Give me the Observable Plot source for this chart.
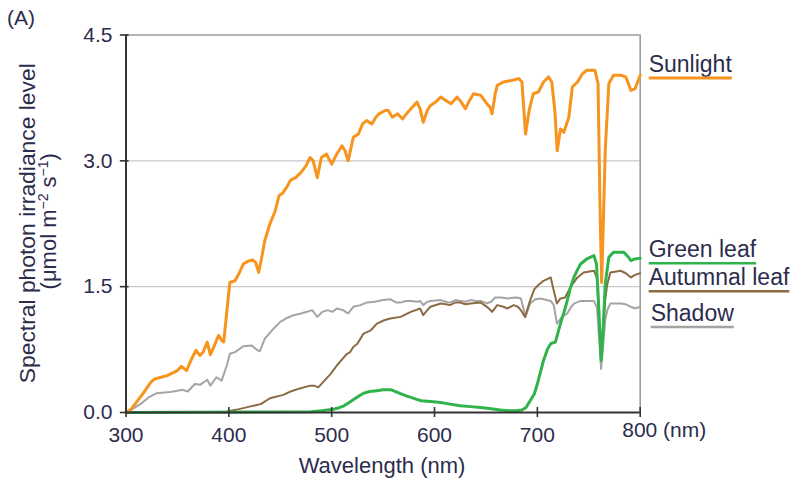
<!DOCTYPE html>
<html><head><meta charset="utf-8">
<script src="https://cdn.jsdelivr.net/npm/d3@7"></script>
<script src="https://cdn.jsdelivr.net/npm/@observablehq/plot@0.6"></script>
<style>body{margin:0;background:#fff}</style>
</head><body>
<script>
const xTicks = [300, 400, 500, 600, 700, 800];
const yTicks = [0, 1.5, 3.0, 4.5];
const seriesNames = ["Sunlight", "Green leaf", "Autumnal leaf", "Shadow"];

// [wavelength nm, spectral photon irradiance]
const sunlight = [[300,0],[305,0.04],[310,0.12],[318,0.25],[324,0.36],[328,0.40],[334,0.42],[340,0.44],[345,0.47],[350,0.50],[354,0.55],[359,0.50],[363,0.62],[368,0.74],[372,0.68],[375,0.72],[379,0.84],[382,0.69],[386,0.80],[390,0.92],[393,0.86],[395,0.84],[398,1.2],[401,1.55],[406,1.57],[410,1.66],[414,1.77],[418,1.80],[423,1.82],[426,1.79],[429,1.67],[432,1.85],[435,2.05],[440,2.25],[445,2.40],[449,2.59],[452,2.61],[456,2.68],[460,2.77],[465,2.80],[470,2.86],[475,2.94],[479,3.04],[482,3.00],[486,2.80],[490,3.04],[495,3.08],[500,2.96],[504,3.06],[507,3.12],[510,3.18],[513,3.12],[516,3.00],[521,3.28],[526,3.32],[530,3.44],[534,3.48],[539,3.44],[543,3.52],[546,3.56],[552,3.60],[555,3.60],[559,3.52],[564,3.56],[569,3.50],[574,3.58],[577,3.62],[583,3.70],[586,3.62],[589,3.46],[593,3.60],[596,3.66],[601,3.70],[606,3.76],[611,3.72],[616,3.68],[622,3.76],[626,3.70],[630,3.62],[634,3.72],[638,3.80],[645,3.78],[651,3.68],[654,3.64],[656,3.56],[659,3.80],[661,3.90],[667,3.94],[676,3.96],[682,3.98],[685,3.94],[688.5,3.32],[692,3.60],[696,3.80],[701,3.82],[706,3.94],[711,4.00],[714,3.94],[717,3.60],[719.3,3.12],[722.5,3.38],[725.7,3.34],[730.6,3.52],[734,3.88],[739,3.94],[744,4.04],[748,4.08],[756,4.08],[759,3.92],[761,2.4],[762.5,1.55],[764,2.2],[766,3.12],[769.5,3.92],[774,4.02],[781,4.02],[786,4.00],[791,3.84],[795,3.86],[800,4.02]];

const greenLeaf = [[300,0],[480,0.01],[490,0.02],[502,0.04],[508,0.06],[512,0.08],[517,0.12],[522,0.16],[527,0.20],[531,0.23],[537,0.25],[544,0.26],[550,0.27],[554,0.27],[558,0.27],[564,0.24],[568,0.22],[572,0.20],[577,0.18],[582,0.16],[587,0.14],[596,0.13],[606,0.12],[615,0.10],[625,0.08],[635,0.07],[645,0.06],[655,0.045],[664,0.03],[672,0.02],[680,0.02],[685,0.03],[689,0.06],[693,0.14],[697,0.22],[700,0.34],[703,0.48],[706,0.62],[710,0.76],[713,0.82],[717.5,0.84],[720,0.95],[722.5,1.06],[726,1.20],[729,1.33],[732,1.48],[735.5,1.61],[739,1.70],[742,1.77],[748,1.83],[755,1.87],[757.5,1.77],[759.5,1.3],[762,0.62],[764,1.0],[766,1.53],[769.5,1.85],[774,1.91],[784,1.91],[788,1.86],[791,1.81],[795,1.83],[800,1.84]];

const autumnalLeaf = [[395,0],[402,0.02],[410,0.04],[420,0.07],[431,0.10],[440,0.17],[453,0.21],[460,0.25],[470,0.29],[479,0.32],[483,0.32],[487,0.30],[493,0.38],[499,0.46],[505,0.56],[512,0.66],[515,0.70],[518,0.72],[521,0.78],[525,0.82],[531,0.94],[538,0.98],[544,1.06],[551,1.10],[557,1.12],[567,1.14],[572,1.17],[577,1.20],[586,1.24],[589,1.16],[593,1.22],[596,1.26],[606,1.30],[611,1.29],[615,1.28],[620,1.31],[625,1.31],[630,1.29],[635,1.30],[645,1.31],[651,1.26],[656,1.20],[661,1.28],[667,1.26],[671,1.24],[677,1.28],[681,1.26],[684,1.22],[688,1.14],[692,1.30],[697,1.47],[701,1.52],[706,1.57],[713,1.61],[716,1.45],[719,1.30],[722.5,1.36],[727,1.37],[732,1.49],[739,1.61],[745,1.67],[755,1.69],[758,1.60],[760,1.1],[762,0.62],[764,1.0],[766,1.35],[768,1.53],[771,1.67],[781,1.69],[786,1.66],[791,1.61],[795,1.64],[800,1.66]];

const shadow = [[300,0],[306,0.04],[314,0.10],[322,0.18],[330,0.23],[340,0.24],[346,0.25],[355,0.27],[360,0.25],[367,0.34],[372,0.33],[379,0.39],[382,0.32],[388,0.42],[393,0.38],[398,0.56],[401,0.70],[406,0.72],[414,0.79],[422,0.80],[427,0.75],[430,0.73],[435,0.88],[442,0.98],[450,1.08],[457,1.13],[463,1.16],[470,1.18],[476,1.20],[481,1.22],[486,1.14],[491,1.20],[496,1.22],[501,1.20],[505,1.24],[511,1.22],[516,1.18],[521,1.26],[528,1.28],[534,1.31],[542,1.32],[550,1.34],[557,1.35],[563,1.31],[567,1.31],[572,1.33],[577,1.33],[583,1.32],[586,1.33],[589,1.28],[593,1.32],[596,1.33],[606,1.34],[611,1.32],[615,1.31],[620,1.34],[625,1.33],[630,1.32],[635,1.34],[640,1.33],[645,1.33],[651,1.30],[655,1.32],[659,1.37],[665,1.37],[671,1.36],[680,1.37],[684,1.36],[688.5,1.14],[693,1.30],[698,1.35],[703,1.36],[713,1.33],[716,1.28],[719,1.06],[724,1.14],[729,1.18],[733,1.26],[736,1.30],[742,1.33],[755,1.33],[758,1.25],[760,0.9],[762,0.52],[764,0.8],[766,1.10],[768,1.22],[771,1.30],[781,1.30],[786,1.29],[791,1.26],[795,1.24],[800,1.26]];

const font = '"Liberation Sans", Arial, Helvetica, sans-serif';
const ink = "#2c2c4c";
const colors = {"Sunlight": "#f7941d", "Green leaf": "#2fb34a", "Autumnal leaf": "#8b6b43", "Shadow": "#a4a4a4"};
const widths = {"Sunlight": 3, "Green leaf": 3, "Autumnal leaf": 2, "Shadow": 2};
const seriesData = {"Sunlight": sunlight, "Green leaf": greenLeaf, "Autumnal leaf": autumnalLeaf, "Shadow": shadow};
const drawOrder = ["Shadow", "Autumnal leaf", "Green leaf", "Sunlight"];

const lineMarks = drawOrder.map(name => Plot.line(seriesData[name], {
  x: d => d[0], y: d => d[1], stroke: colors[name], strokeWidth: widths[name],
  strokeLinejoin: "round", strokeLinecap: "round"
}));

const plot = Plot.plot({
  width: 792, height: 481,
  marginLeft: 125.5, marginRight: 152.3, marginTop: 34.5, marginBottom: 69,
  style: {fontFamily: font, background: "white", overflow: "visible"},
  x: {domain: [300, 800]},
  y: {domain: [0, 4.5]},
  marks: [
    Plot.ruleY([1.5, 3.0], {stroke: "#c8c8c8", strokeWidth: 1.2}),
    Plot.ruleY([4.5], {x1: 300, x2: 800, stroke: "#9c9c9c", strokeWidth: 1.6}),
    Plot.ruleX([800], {y1: 0, y2: 4.5, stroke: "#9c9c9c", strokeWidth: 1.6}),
    ...lineMarks,
    Plot.ruleY([0], {x1: 300, x2: 800, stroke: "#333", strokeWidth: 2}),
    Plot.ruleX([300], {y1: 0, y2: 4.5, stroke: "#333", strokeWidth: 2}),
    Plot.ruleX(xTicks, {y1: -0.06, y2: 0.06, stroke: "#333", strokeWidth: 1.6}),
    Plot.ruleY(yTicks, {x1: 294.5, x2: 303, stroke: "#333", strokeWidth: 1.6}),
    Plot.axisX(xTicks.slice(0, -1), {tickSize: 0, tickPadding: 15, fontSize: 21, fill: ink, label: null}),
    Plot.axisY(yTicks, {tickSize: 0, tickPadding: 13.5, tickFormat: d3.format(".1f"), fontSize: 21, fill: ink, label: null}),
    Plot.text(["800 (nm)"], {x: 800, y: 0, text: d => d, textAnchor: "start", lineAnchor: "top", dx: -18, dy: 10, fontSize: 21, fill: ink})
  ]
});
document.body.appendChild(plot);

const svg = d3.select(plot);
const sx = plot.scale("x"), sy = plot.scale("y");
const addText = () => svg.append("text").attr("fill", ink).attr("font-family", font).attr("text-anchor", "start");

// panel tag
addText().attr("x", 7).attr("y", 25).attr("font-size", 21).text("(A)");

// x-axis title
addText().attr("x", 382).attr("y", 473).attr("text-anchor", "middle").attr("font-size", 22).text("Wavelength (nm)");

// y-axis title, two lines
const yMid = (sy.apply(0) + sy.apply(4.5)) / 2;
addText().attr("transform", `translate(35,${yMid}) rotate(-90)`)
  .attr("text-anchor", "middle").attr("font-size", 22)
  .attr("textLength", 320).attr("lengthAdjust", "spacingAndGlyphs")
  .text("Spectral photon irradiance level");
const t2 = addText().attr("transform", `translate(56,${yMid - 2}) rotate(-90)`)
  .attr("text-anchor", "middle").attr("font-size", 22);
t2.append("tspan").text("(μmol m");
t2.append("tspan").attr("font-size", 14).attr("dy", -8).text("−2");
t2.append("tspan").attr("dy", 8).text(" s");
t2.append("tspan").attr("font-size", 14).attr("dy", -8).text("−1");
t2.append("tspan").attr("dy", 8).text(")");

// series labels with coloured underlines
const labelBaselines = {"Sunlight": 71.7, "Green leaf": 257, "Autumnal leaf": 285, "Shadow": 320.7};
const labelX = sx.apply(800) + 8;
seriesNames.forEach(name => {
  const x0 = labelX + (name === "Shadow" ? 3 : 1);
  const t = addText().attr("x", x0).attr("y", labelBaselines[name]).attr("font-size", 23).text(name);
  const len = t.node().getComputedTextLength();
  svg.append("line").attr("x1", x0).attr("x2", x0 + len)
    .attr("y1", labelBaselines[name] + 6.3).attr("y2", labelBaselines[name] + 6.3)
    .attr("stroke", colors[name]).attr("stroke-width", name === "Sunlight" ? 3 : 2.5);
});
</script>
</body></html>
